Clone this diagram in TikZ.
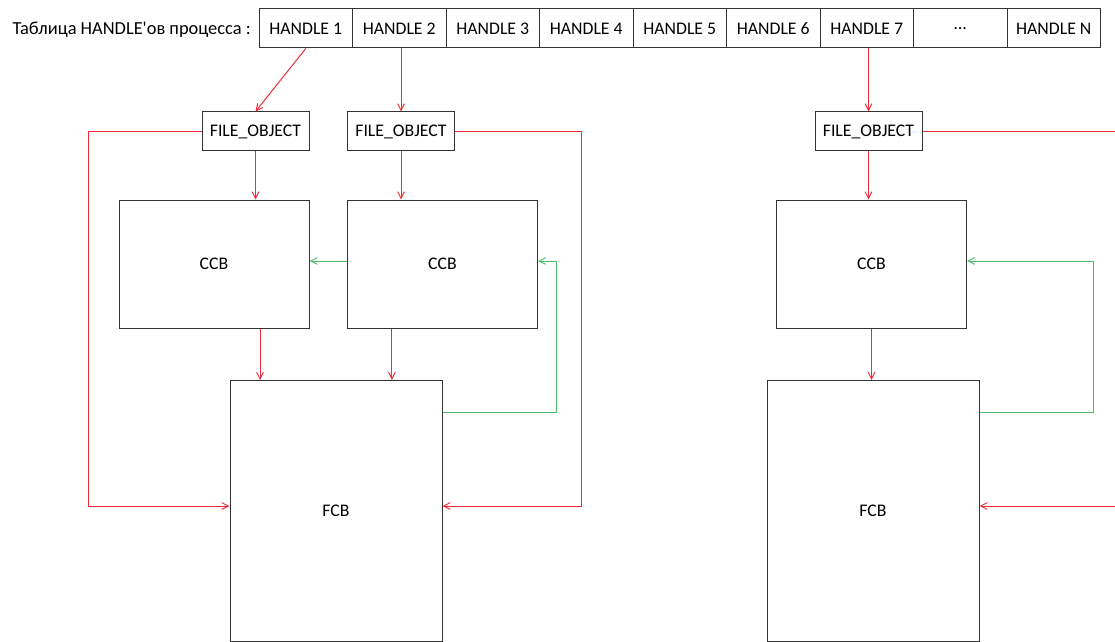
\documentclass[tikz,border=0pt]{standalone}
\usepackage{fontspec}
\setmainfont{Carlito}
\usetikzlibrary{arrows.meta}
\definecolor{linkred}{RGB}{237,45,58}
\definecolor{linkgreen}{RGB}{76,187,106}

\begin{document}
\begin{tikzpicture}[x=0.75pt,y=-0.75pt,
    font=\fontsize{13.3pt}{16pt}\selectfont,
    box/.style={draw=black!80,line width=0.75pt,inner sep=0pt},
    redline/.style={draw=linkred,line width=0.75pt,-{Straight Barb[length=5pt,width=5pt]}},
    greenline/.style={draw=linkgreen,line width=0.75pt,-{Straight Barb[length=5pt,width=5pt]}}]

        \useasboundingbox (0,0) rectangle (1115,642);

        \node[anchor=east,inner sep=0pt,font=\fontsize{13.8pt}{16pt}\selectfont] (title) at (251,29.5) {Таблица HANDLE\textquotesingle ов процесса :};

        \begin{scope}[every node/.style={box,minimum width=70.125pt,minimum height=29.25pt}]
          \node (h1)    at (305.75,28.5)  {HANDLE 1};
          \node (h2)    at (399.25,28.5)  {HANDLE 2};
          \node (h3)    at (492.75,28.5)  {HANDLE 3};
          \node (h4)    at (586.25,28.5)  {HANDLE 4};
          \node (h5)    at (679.75,28.5)  {HANDLE 5};
          \node (h6)    at (773.25,28.5)  {HANDLE 6};
          \node (h7)    at (866.75,28.5)  {HANDLE 7};
          \node (hdots) at (960.25,28.5)  {…};
          \node (hn)    at (1053.75,28.5) {HANDLE N};
        \end{scope}

        \begin{scope}[every node/.style={box,minimum width=80.25pt,minimum height=29.25pt}]
          \node (fo1) at (255.5,131.5) {FILE\_OBJECT};
          \node (fo2) at (401,131.5)   {FILE\_OBJECT};
          \node (fo3) at (868.5,131.5) {FILE\_OBJECT};
        \end{scope}

        \begin{scope}[every node/.style={box,minimum width=142.5pt,minimum height=96pt}]
          \node (ccb1) at (214,264)   {CCB};
          \node (ccb2) at (442.5,264) {CCB};
          \node (ccb3) at (871.5,264) {CCB};
        \end{scope}

        \begin{scope}[every node/.style={box,minimum width=159pt,minimum height=195.75pt}]
          \node (fcb1) at (336,511) {FCB};
          \node (fcb3) at (873,511) {FCB};
        \end{scope}

        \coordinate (offr1) at (1115,131.5);
        \coordinate (offr2) at (1115,506);

        % handles to file objects
        \draw[redline] (h1.south) -- (fo1.north);
        \draw[redline] (h2.south -| fo2.north) -- (fo2.north);
        \draw[redline] (h7.south -| fo3.north) -- (fo3.north);

        % file objects to ccb / fcb
        \draw[redline] (fo1.south) -- (fo1.south |- ccb1.north);
        \draw[redline] (fo2.south) -- (fo2.south |- ccb2.north);
        \draw[redline] (fo3.south) -- (fo3.south |- ccb3.north);
        \draw[redline] (fo1.west) -- ++(-113,0) |- ([yshift=3.75pt]fcb1.west);
        \draw[redline] (fo2.east) -- ++(126,0) |- ([yshift=3.75pt]fcb1.east);
        \draw[draw=linkred,line width=0.75pt] (fo3.east) -- (offr1);
        \draw[redline] (offr2) -- (offr2 -| fcb3.east);

        % ccb to fcb
        \draw[redline] ([xshift=34.5pt]ccb1.south) -- ([xshift=34.5pt]ccb1.south |- fcb1.north);
        \draw[redline] ([xshift=-37.9pt]ccb2.south) -- ([xshift=-37.9pt]ccb2.south |- fcb1.north);
        \draw[redline] (ccb3.south) -- (ccb3.south |- fcb3.north);

        % green links
        \draw[greenline] ([yshift=2.25pt]ccb2.west) -- ([yshift=2.25pt]ccb1.east);
        \draw[greenline] ([yshift=-24.4pt]fcb1.north east) -- ++(114,0) |- ([yshift=2.25pt]ccb2.east);
        \draw[greenline] ([yshift=-24.4pt]fcb3.north east) -- ++(114,0) |- ([yshift=2.25pt]ccb3.east);

      \end{tikzpicture}
\end{document}
